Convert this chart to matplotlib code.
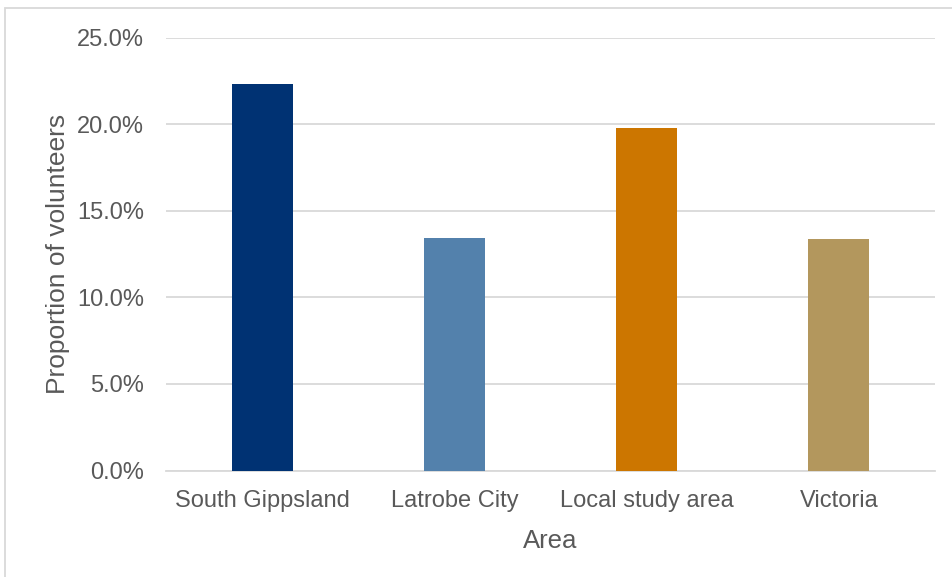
import matplotlib.pyplot as plt
from matplotlib.patches import Rectangle
from matplotlib.ticker import PercentFormatter

# valores
areas = ['South Gippsland', 'Latrobe City', 'Local study area', 'Victoria']
proporcao = [0.2232, 0.1340, 0.1977, 0.1335]
cores = ['#003273', '#5381AC', '#CC7600', '#B3975D']
ticks_y = [0.0, 0.05, 0.10, 0.15, 0.20, 0.25]

cinza_texto = '#595959'
cinza_grade = '#D9D9D9'

plt.rcParams['font.family'] = ['Liberation Sans', 'DejaVu Sans']

fig = plt.figure(figsize=(9.52, 5.77), dpi=100)
ax = fig.add_axes([166 / 952, 1 - 470.5 / 577, (935 - 166) / 952, (470.5 - 37.5) / 577])

# moldura cinza da área do gráfico (cortada à direita e embaixo)
fig.patches.append(Rectangle((5 / 952, -0.1), 1.2, 1.1 - 8 / 577,
                             transform=fig.transFigure, fill=False,
                             edgecolor=cinza_grade, linewidth=1.3, zorder=0))

x = range(len(areas))
ax.bar(x, proporcao, width=0.317, color=cores, zorder=3)

ax.set_xlim(-0.5, len(areas) - 0.5)
ax.set_ylim(0, 0.25)
ax.set_yticks(ticks_y)
ax.yaxis.set_major_formatter(PercentFormatter(1.0, decimals=1))
ax.set_xticks(list(x))
ax.set_xticklabels(areas)

ax.grid(axis='y', color=cinza_grade, linewidth=1.3, zorder=0)
for lado in ['top', 'right', 'left']:
    ax.spines[lado].set_visible(False)
ax.spines['bottom'].set_color(cinza_grade)
ax.spines['bottom'].set_linewidth(1.3)

ax.tick_params(axis='both', length=0, labelsize=17, labelcolor=cinza_texto)
ax.tick_params(axis='y', pad=16)
ax.tick_params(axis='x', pad=14)

ax.set_xlabel('Area', fontsize=18.5, color=cinza_texto, labelpad=12)
ax.set_ylabel('Proportion of volunteers', fontsize=19, color=cinza_texto, labelpad=5)

fig.savefig('out.png', dpi=100)
